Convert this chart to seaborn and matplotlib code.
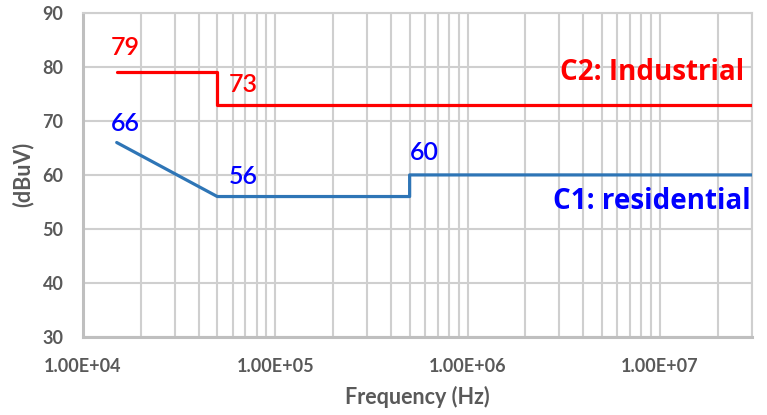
import matplotlib
matplotlib.use("Agg")
import matplotlib.pyplot as plt
import matplotlib.ticker as mticker
import numpy as np
import pandas as pd
import seaborn as sns

# Conducted emission limits (quasi-peak), frequency in Hz, level in dBuV
freq_c2 = [1.5e4, 5e4, 5e4, 3e7]
level_c2 = [79, 79, 73, 73]
freq_c1 = [1.5e4, 5e4, 5e5, 5e5, 3e7]
level_c1 = [66, 56, 56, 60, 60]

value_labels_c2 = [("79", 1.66e4, 83.6), ("73", 6.8e4, 76.7)]
value_labels_c1 = [("66", 1.66e4, 69.6), ("56", 6.8e4, 59.8), ("60", 6.0e5, 64.2)]

x_ticks = [1e4, 1e5, 1e6, 1e7]
x_tick_labels = ["1.00E+04", "1.00E+05", "1.00E+06", "1.00E+07"]
y_ticks = [30, 40, 50, 60, 70, 80, 90]

sns.set_style("white")
plt.rcParams["font.family"] = ["Lato", "DejaVu Sans"]

df_c2 = pd.DataFrame({"freq": freq_c2, "level": level_c2})
df_c1 = pd.DataFrame({"freq": freq_c1, "level": level_c1})

fig = plt.figure(figsize=(7.67, 4.15), dpi=100)
ax = fig.add_axes([0.108, 0.188, 0.872, 0.781])

red = "#ff0000"
blue_line = "#2e75b6"
blue_text = "#0000ff"
grid_c = "#cfcfcf"
text_gray = "#595959"

sns.lineplot(data=df_c2, x="freq", y="level", sort=False, estimator=None,
             color=red, linewidth=2.3, ax=ax, zorder=3)
sns.lineplot(data=df_c1, x="freq", y="level", sort=False, estimator=None,
             color=blue_line, linewidth=2.3, ax=ax, zorder=3)

ax.set_xscale("log")
ax.set_xlim(1e4, 3e7)
ax.set_ylim(30, 90)

ax.xaxis.set_major_locator(mticker.FixedLocator(x_ticks))
ax.xaxis.set_major_formatter(mticker.FixedFormatter(x_tick_labels))
ax.xaxis.set_minor_locator(mticker.LogLocator(base=10, subs=np.arange(2, 10), numticks=20))
ax.xaxis.set_minor_formatter(mticker.NullFormatter())
ax.set_yticks(y_ticks)

ax.grid(True, which="major", color=grid_c, linewidth=1.5)
ax.grid(True, which="minor", axis="x", color=grid_c, linewidth=1.5)
ax.set_axisbelow(True)

for side in ["top", "right"]:
    ax.spines[side].set_color(grid_c)
    ax.spines[side].set_linewidth(1.5)
for side in ["left", "bottom"]:
    ax.spines[side].set_color("#bfbfbf")
    ax.spines[side].set_linewidth(2.2)

ax.tick_params(axis="both", which="both", length=0, labelsize=13,
               labelcolor=text_gray)
ax.tick_params(axis="x", pad=15)
ax.tick_params(axis="y", pad=14)
for lab in ax.get_xticklabels() + ax.get_yticklabels():
    lab.set_fontweight("bold")

ax.set_xlabel("Frequency (Hz)", fontsize=15.5, fontweight="bold", color=text_gray, labelpad=8)
ax.set_ylabel("(dBuV)", fontsize=15.5, fontweight="bold", color=text_gray, labelpad=6)

for txt, x, y in value_labels_c2:
    ax.text(x, y, txt, color=red, fontsize=18, ha="center", va="center", fontweight="semibold")
for txt, x, y in value_labels_c1:
    ax.text(x, y, txt, color=blue_text, fontsize=18, ha="center", va="center", fontweight="semibold")

series_font = ["Open Sans", "DejaVu Sans"]
ax.text(2.74e7, 78.9, "C2: Industrial", color=red, fontsize=20, fontweight="bold",
        family=series_font, ha="right", va="center")
ax.text(2.98e7, 55.1, "C1: residential", color=blue_text, fontsize=20, fontweight="bold",
        family=series_font, ha="right", va="center")

fig.savefig("out.png", dpi=100)
